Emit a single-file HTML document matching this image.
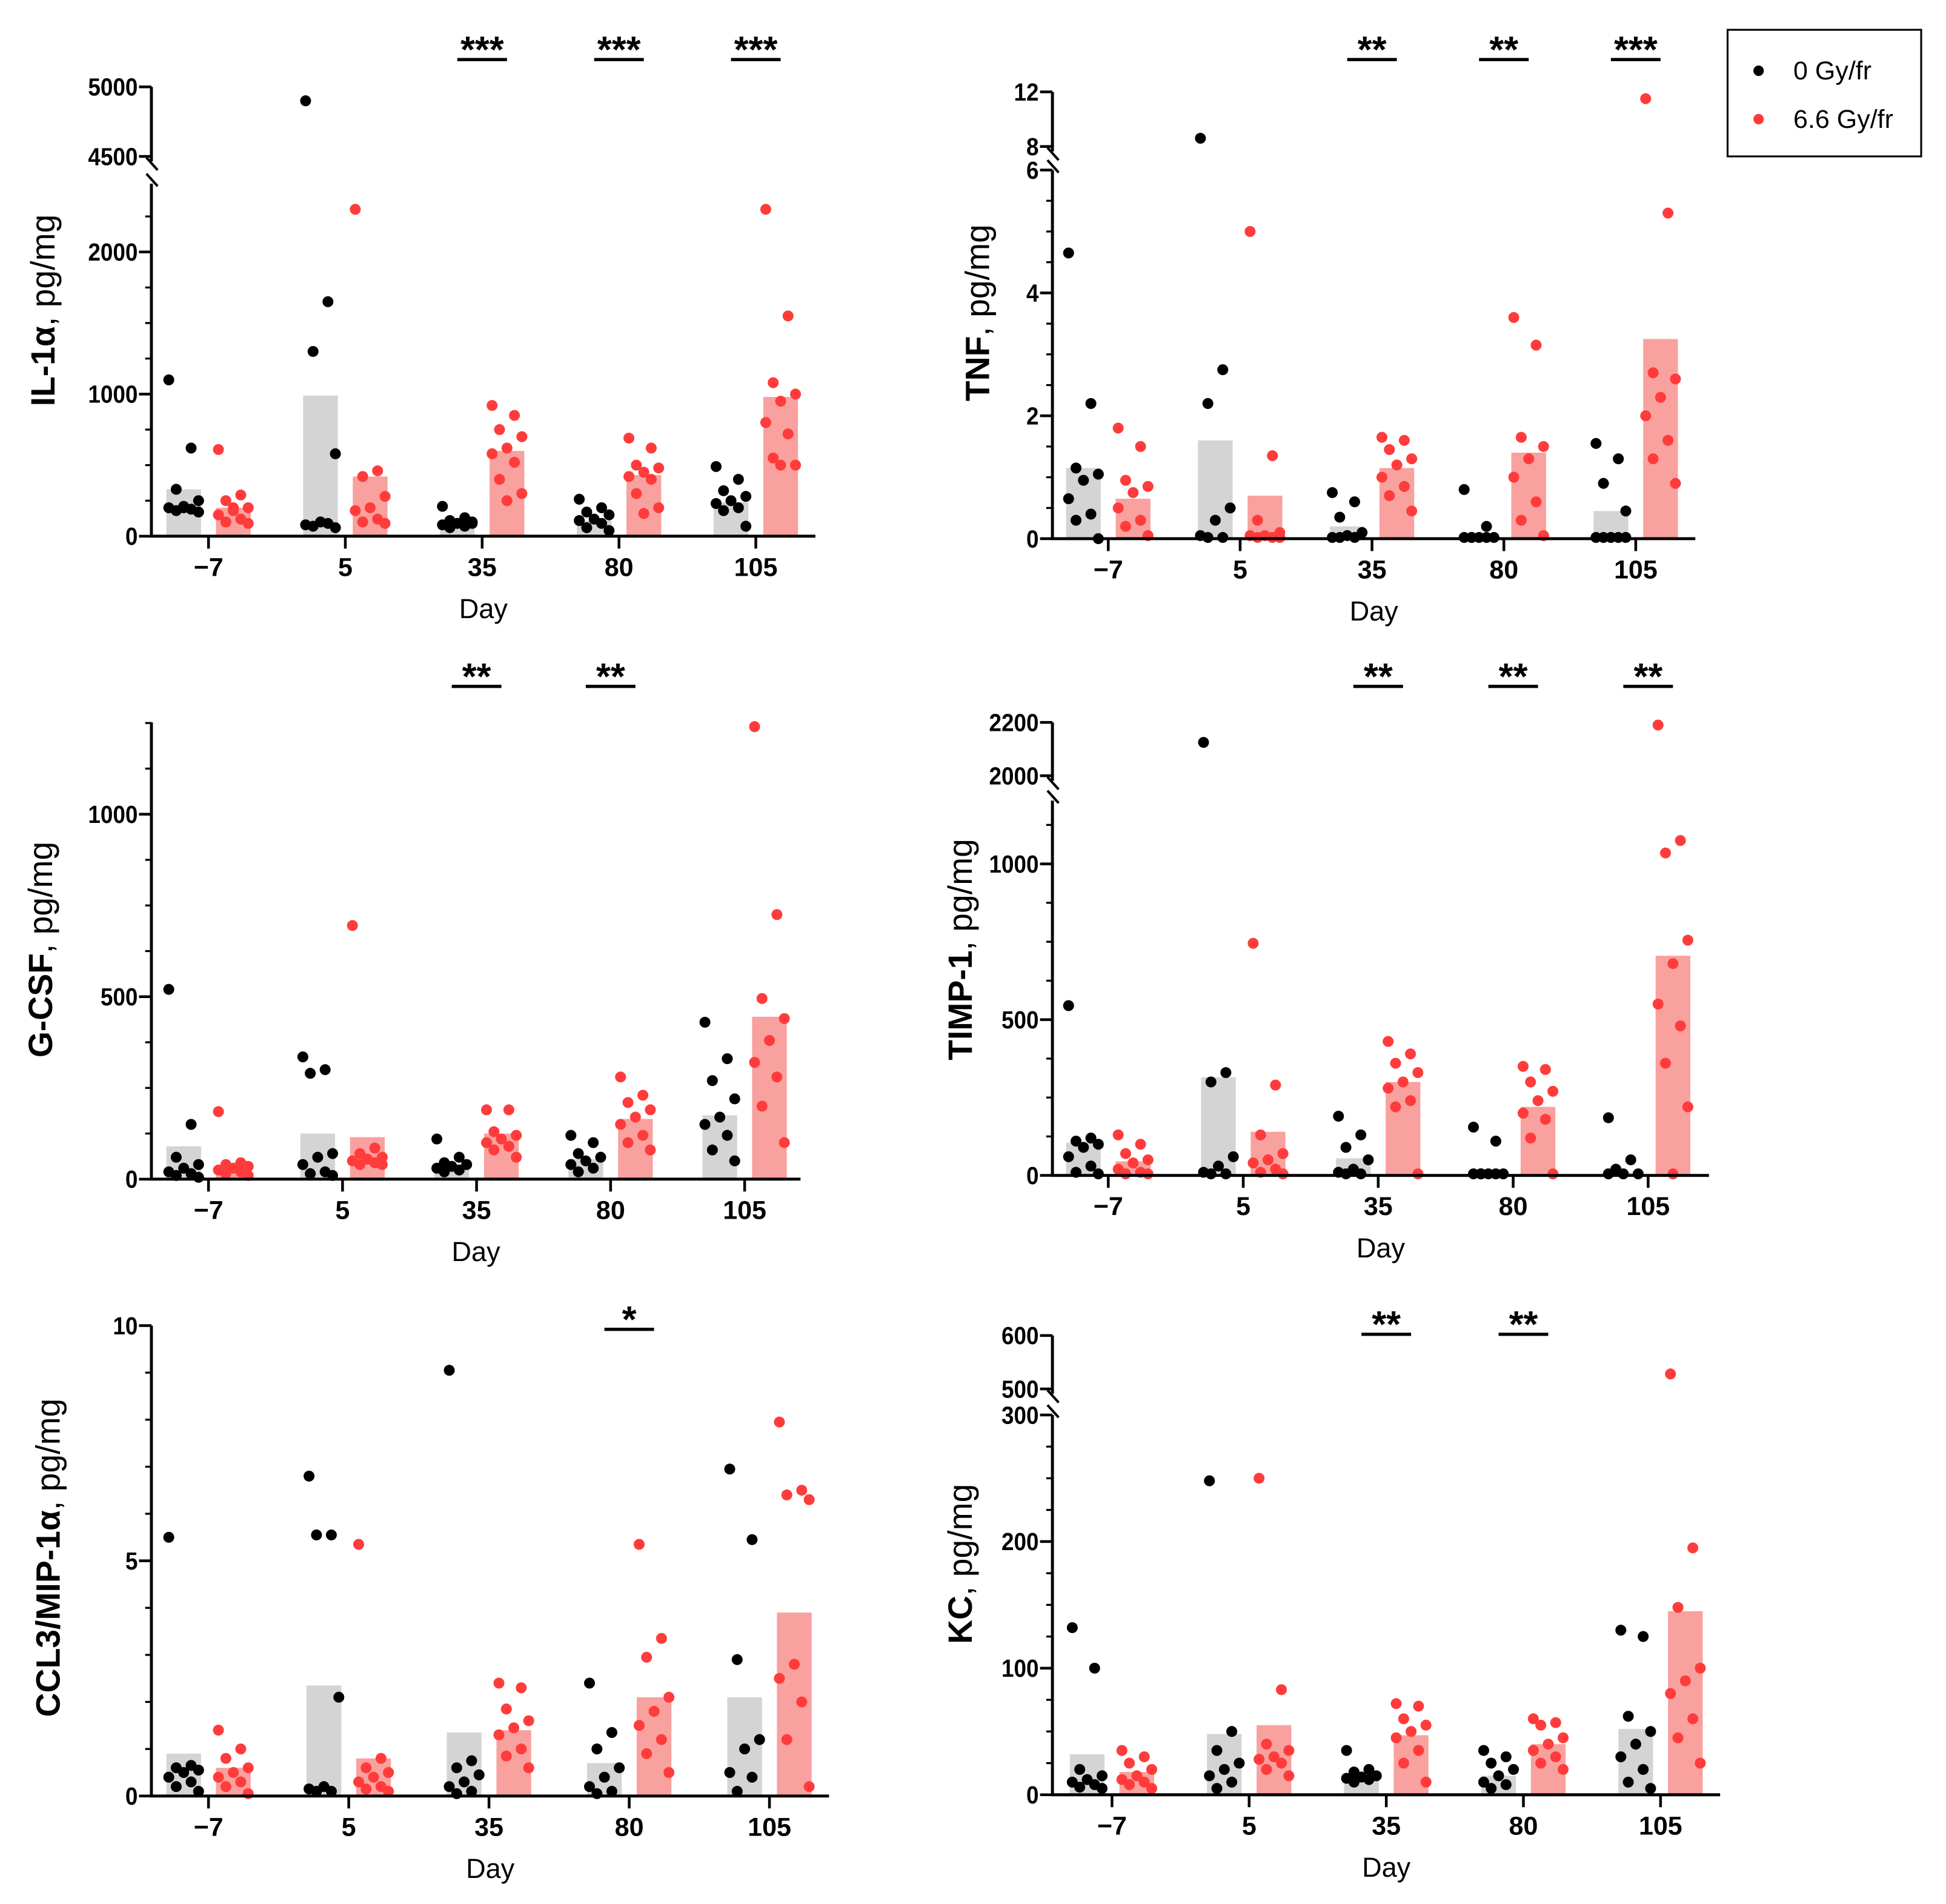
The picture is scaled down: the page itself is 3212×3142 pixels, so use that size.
<!DOCTYPE html>
<html><head><meta charset="utf-8"><style>
html,body{margin:0;padding:0;background:#fff}
svg{display:block}
text{font-family:"Liberation Sans",sans-serif}
</style></head><body>
<svg id="fig" xmlns="http://www.w3.org/2000/svg" width="3212" height="3142" viewBox="0 0 1568 1534" preserveAspectRatio="none">
<g id="legend">
<rect x="1392" y="24" width="156" height="102" fill="#fff" stroke="#000" stroke-width="1.5"/>
<circle cx="1417" cy="57" r="4.2" fill="#000"/>
<text x="1445" y="64" font-size="21">0 Gy/fr</text>
<circle cx="1417" cy="96" r="4.2" fill="#ff3b3b"/>
<text x="1445" y="103" font-size="21">6.6 Gy/fr</text>
</g>
</svg>
<script>
const days = ["\u22127","5","35","80","105"];

const il1aBlackBars=[330,990,90,110,240];
const il1aRedBars=[200,420,600,430,980];
const il1aBlackPts=[[1100,620,330,250,210,200,190,180,170,200],[4900,1650,1300,580,100,80,90,70,60],[210,130,110,100,90,80,70,60,90],[260,200,170,150,120,110,90,60,40],[490,400,320,280,250,230,200,180,70]];
const il1aRedPts=[[610,290,250,200,180,150,120,100,90,200],[2300,460,420,280,200,180,120,100,90],[920,850,750,700,620,580,520,400,300,250],[690,620,500,480,450,420,400,300,200,160],[2300,1550,1080,1000,950,800,720,550,500,500]];
const il1aSig=["","","***","***","***"];

const tnfBlackBars=[1.15,1.6,0.2,0.05,0.45];
const tnfRedBars=[0.65,0.7,1.15,1.4,3.25];
const tnfBlackPts=[[4.65,2.2,1.15,1.05,0.95,0.65,0.4,0.3,0],[8.6,2.75,2.2,0.5,0.3,0.05,0.02,0.02],[0.75,0.6,0.35,0.1,0.05,0.02,0.02,0.02],[0.8,0.2,0.02,0.02,0.02,0.02,0.02,0.02],[1.55,1.3,0.9,0.45,0.02,0.02,0.02,0.02,0.02]];
const tnfRedPts=[[1.8,1.5,0.95,0.85,0.75,0.5,0.3,0.2,0.05],[5.0,1.35,0.3,0.1,0.05,0.05,0.02,0.02,0.02],[1.65,1.6,1.45,1.3,1.2,1.0,0.85,0.7,0.45],[3.6,3.15,1.65,1.5,1.3,1.0,0.6,0.3,0.05],[11.5,5.3,2.7,2.6,2.3,2.0,1.6,1.3,0.9]];
const tnfSig=["","","**","**","***"];

const gcsfBlackBars=[90,125,40,55,175];
const gcsfRedBars=[35,115,125,165,445];
const gcsfBlackPts=[[520,150,60,40,30,20,15,10,5],[335,300,290,70,60,40,20,15,10],[110,60,45,40,35,30,25,20],[120,100,70,60,50,40,30,20],[430,330,270,220,170,150,120,80,50]];
const gcsfRedPts=[[185,45,40,35,30,25,20,15,10],[695,85,70,60,55,50,45,40,40],[190,190,130,120,110,100,90,80,60],[280,230,210,190,170,150,120,100,80],[1240,725,495,440,380,320,280,200,100]];
const gcsfSig=["","","**","**",""];

const timpBlackBars=[105,315,55,10,10];
const timpRedBars=[45,140,300,220,705];
const timpBlackPts=[[545,120,110,100,90,60,30,10,5],[2125,330,300,60,30,10,5,5],[190,130,90,50,20,10,5,5],[155,110,5,5,5,5,5,5],[185,50,20,5,5,5]];
const timpRedPts=[[130,100,70,50,40,20,10,5,5],[745,290,130,70,50,40,20,10,5],[430,390,360,330,300,280,240,220,5],[350,340,300,270,240,200,180,120,5],[2190,1075,1035,755,680,550,480,360,220,5]];
const timpSig=["","","**","**","**"];

const ccl3BlackBars=[0.9,2.35,1.35,0.7,2.1];
const ccl3RedBars=[0.6,0.8,1.4,2.1,3.9];
const ccl3BlackPts=[[5.5,0.65,0.6,0.55,0.5,0.4,0.3,0.2,0.1],[6.8,5.55,5.55,2.1,0.2,0.15,0.1,0.1],[9.05,0.75,0.6,0.45,0.3,0.2,0.1,0.05],[2.4,1.35,1.0,0.6,0.4,0.2,0.1,0.05],[6.95,5.45,2.9,1.2,1.0,0.5,0.4,0.1]];
const ccl3RedPts=[[1.4,1.0,0.8,0.6,0.5,0.4,0.3,0.2,0.05],[5.35,0.8,0.6,0.5,0.4,0.3,0.2,0.15,0.1],[2.4,2.3,1.85,1.6,1.45,1.3,1.0,0.85,0.6],[5.35,3.35,2.95,2.1,1.8,1.5,1.2,0.9,0.5],[7.95,6.5,6.4,6.3,2.8,2.5,2.0,1.2,0.2]];
const ccl3Sig=["","","","*",""];

const kcBlackBars=[32,48,15,15,52];
const kcRedBars=[18,55,47,40,145];
const kcBlackPts=[[132,100,20,15,12,10,8,6,5],[248,50,35,25,20,15,10,5],[35,20,18,15,14,13,12,10],[35,30,25,20,15,10,8,5],[130,125,62,50,40,30,20,10,5]];
const kcRedPts=[[35,30,25,20,15,12,10,8,5],[250,83,40,35,30,28,25,20,15],[72,70,60,55,50,45,35,25,10],[60,57,55,45,40,35,30,25,20],[528,195,148,100,90,80,60,45,25]];
const kcSig=["","","**","**",""];

const NS="http://www.w3.org/2000/svg";
const svg=document.getElementById('fig');
function el(tag,attrs,parent){const e=document.createElementNS(NS,tag);for(const k in attrs)e.setAttribute(k,attrs[k]);(parent||svg).appendChild(e);return e;}

function panel(cfg){
  const g=el('g',{});
  
  
  const y=function(v){
    if(cfg.up && v>=cfg.up.min){return cfg.up.y0-(v-cfg.up.min)*(cfg.up.y0-cfg.up.y1)/(cfg.up.max-cfg.up.min);}
    return cfg.y0-v*cfg.ppu;
  };
  const xc=function(i){return cfg.x1+i*cfg.step;};
  const off=20,bw=28;
  for(let i=0;i<days.length;i++){
    const bb=el('rect',{x:xc(i)-off-bw/2,y:y(cfg.bB[i]),width:bw,height:cfg.y0-y(cfg.bB[i]),fill:'#d4d4d4'},g);
    
    
    const br=el('rect',{x:xc(i)+off-bw/2,y:y(cfg.bR[i]),width:bw,height:cfg.y0-y(cfg.bR[i]),fill:'#f9a19e'},g);
    
    
  }
  const jit=function(j){return (((j*3)%5)-2)*6;};
  for(let i=0;i<days.length;i++){
    cfg.pB[i].forEach(function(v,j){
      const c=el('circle',{cx:xc(i)-off+jit(j),cy:y(v),r:4.4,fill:'#000'},g);
      
      
    });
    cfg.pR[i].forEach(function(v,j){
      const c=el('circle',{cx:xc(i)+off+jit(j),cy:y(v),r:4.4,fill:'#ff3b3b'},g);
      
      
    });
  }
  const ax=cfg.ax;
  const xa=el('line',{x1:ax-1,y1:cfg.y0,x2:cfg.xEnd,y2:cfg.y0,stroke:'#000','stroke-width':2.4},g);
  
  
  const ya=el('line',{x1:ax,y1:cfg.y0+1,x2:ax,y2:cfg.lowTop,stroke:'#000','stroke-width':2.4},g);
  
  
  if(cfg.up){
    el('line',{x1:ax,y1:cfg.up.y1,x2:ax,y2:cfg.up.y0+4,stroke:'#000','stroke-width':2.4},g);
    el('line',{x1:ax-4,y1:cfg.up.y0+1,x2:ax+5,y2:cfg.up.y0+11,stroke:'#000','stroke-width':2},g);
    el('line',{x1:ax-4,y1:cfg.lowTop-8,x2:ax+5,y2:cfg.lowTop+2,stroke:'#000','stroke-width':2},g);
    cfg.up.ticks.forEach(function(t){
      el('line',{x1:ax-10,y1:y(t),x2:ax,y2:y(t),stroke:'#000','stroke-width':2.2},g);
      const tl=el('text',{x:ax-11,y:y(t)+7,'font-size':20,'font-weight':'bold','text-anchor':'end',transform:'translate('+(ax-11)+' 0) scale(0.9 1) translate('+(-(ax-11))+' 0)'},g);
      tl.textContent=t;
      
      
    });
  }
  cfg.ticks.forEach(function(t){
    el('line',{x1:ax-10,y1:y(t),x2:ax,y2:y(t),stroke:'#000','stroke-width':2.2},g);
    const tl=el('text',{x:ax-11,y:y(t)+7,'font-size':20,'font-weight':'bold','text-anchor':'end',transform:'translate('+(ax-11)+' 0) scale(0.9 1) translate('+(-(ax-11))+' 0)'},g);
    tl.textContent=t;
    
    
  });
  for(let m=cfg.minor;m<=cfg.minorMax+1e-9;m+=cfg.minor){
    el('line',{x1:ax-5,y1:y(m),x2:ax,y2:y(m),stroke:'#000','stroke-width':1.6},g);
  }
  for(let i=0;i<days.length;i++){
    el('line',{x1:xc(i),y1:cfg.y0,x2:xc(i),y2:cfg.y0+10,stroke:'#000','stroke-width':2.2},g);
    const tl=el('text',{x:xc(i),y:cfg.y0+32,'font-size':21,'font-weight':'bold','text-anchor':'middle'},g);
    tl.textContent=days[i];
    
    
    if(cfg.sig[i]){
      const sl=el('line',{x1:xc(i)-20,y1:cfg.sigY,x2:xc(i)+20,y2:cfg.sigY,stroke:'#000','stroke-width':2.6},g);
      
      
      const st=el('text',{x:xc(i),y:cfg.sigY+2,'font-size':30,'font-weight':'bold','text-anchor':'middle'},g);
      st.textContent=cfg.sig[i];
      
      
    }
  }
  const dl=el('text',{x:(ax+cfg.xEnd)/2,y:cfg.y0+66,'font-size':22,'text-anchor':'middle'},g);
  dl.textContent='Day';
  
  
  const yt=el('text',{x:cfg.tx,y:cfg.ty,'font-size':27,'text-anchor':'middle',transform:'rotate(-90 '+cfg.tx+' '+cfg.ty+')'},g);
  
  
  const t1=el('tspan',{'font-weight':'bold'},yt);t1.textContent=cfg.title;
  const t2=el('tspan',{},yt);t2.textContent=', pg/mg';
}

panel({key:'il1a',title:'IL-1\u03b1',ax:122,xEnd:657,y0:432,ppu:0.1145,lowTop:148,x1:168,step:110.25,
  ticks:[0,1000,2000],minor:250,minorMax:2250,up:{min:4500,max:5000,y0:126,y1:70,ticks:[4500,5000]},
  bB:il1aBlackBars,bR:il1aRedBars,pB:il1aBlackPts,pR:il1aRedPts,sig:il1aSig,sigY:48,tx:44,ty:250});
panel({key:'tnf',title:'TNF',ax:848,xEnd:1366,y0:434,ppu:49.5,lowTop:137,x1:893,step:106.25,
  ticks:[0,2,4,6],minor:0.5,minorMax:5.5,up:{min:8,max:12,y0:118,y1:74,ticks:[8,12]},
  bB:tnfBlackBars,bR:tnfRedBars,pB:tnfBlackPts,pR:tnfRedPts,sig:tnfSig,sigY:48,tx:797,ty:252});
panel({key:'gcsf',title:'G-CSF',ax:122,xEnd:645,y0:950,ppu:0.294,lowTop:582,x1:168,step:108,
  ticks:[0,500,1000],minor:125,minorMax:1250,
  bB:gcsfBlackBars,bR:gcsfRedBars,pB:gcsfBlackPts,pR:gcsfRedPts,sig:gcsfSig,sigY:553,tx:42,ty:765});
panel({key:'timp1',title:'TIMP-1',ax:848,xEnd:1377,y0:947,ppu:0.251,lowTop:645,x1:893,step:108.75,
  ticks:[0,500,1000],minor:125,minorMax:1125,up:{min:2000,max:2200,y0:625,y1:582,ticks:[2000,2200]},
  bB:timpBlackBars,bR:timpRedBars,pB:timpBlackPts,pR:timpRedPts,sig:timpSig,sigY:553,tx:783,ty:765});
panel({key:'ccl3',title:'CCL3/MIP-1\u03b1',ax:122,xEnd:668,y0:1447,ppu:37.9,lowTop:1068,x1:168,step:113,
  ticks:[0,5,10],minor:1,minorMax:10,
  bB:ccl3BlackBars,bR:ccl3RedBars,pB:ccl3BlackPts,pR:ccl3RedPts,sig:ccl3Sig,sigY:1071,tx:48,ty:1255});
panel({key:'kc',title:'KC',ax:848,xEnd:1386,y0:1446,ppu:1.02,lowTop:1140,x1:896,step:110.5,
  ticks:[0,100,200,300],minor:25,minorMax:300,up:{min:500,max:600,y0:1119,y1:1076,ticks:[500,600]},
  bB:kcBlackBars,bR:kcRedBars,pB:kcBlackPts,pR:kcRedPts,sig:kcSig,sigY:1075,tx:783,ty:1260});
</script>
</body></html>
